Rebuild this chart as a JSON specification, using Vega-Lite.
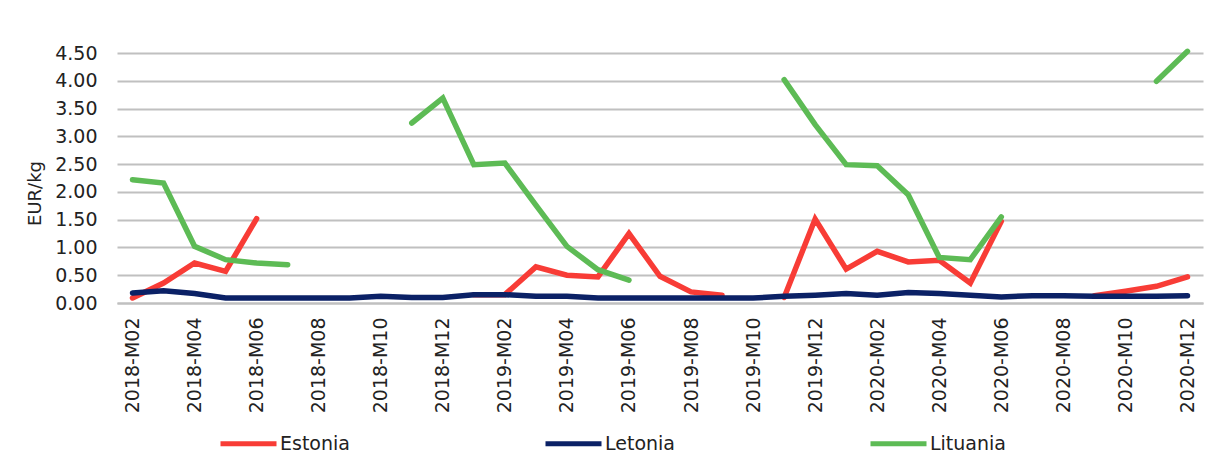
{
  "$schema": "https://vega.github.io/schema/vega-lite/v6.json",
  "width": 1086,
  "height": 250,
  "autosize": {"type": "none"},
  "padding": {"left": 117, "top": 53, "right": 5, "bottom": 156},
  "background": "white",
  "config": {
    "font": "DejaVu Sans",
    "view": {"stroke": null},
    "axis": {"labelColor": "#222222", "titleColor": "#222222", "labelFont": "DejaVu Sans", "titleFont": "DejaVu Sans"}
  },
  "data": {
    "values": [
      {"month": "2018-M02", "Estonia": 0.09, "Letonia": 0.18, "Lituania": 2.22},
      {"month": "2018-M03", "Estonia": 0.36, "Letonia": 0.22, "Lituania": 2.16},
      {"month": "2018-M04", "Estonia": 0.72, "Letonia": 0.17, "Lituania": 1.02},
      {"month": "2018-M05", "Estonia": 0.57, "Letonia": 0.09, "Lituania": 0.78},
      {"month": "2018-M06", "Estonia": 1.52, "Letonia": 0.09, "Lituania": 0.72},
      {"month": "2018-M07", "Estonia": null, "Letonia": 0.09, "Lituania": 0.69},
      {"month": "2018-M08", "Estonia": null, "Letonia": 0.09, "Lituania": null},
      {"month": "2018-M09", "Estonia": null, "Letonia": 0.09, "Lituania": null},
      {"month": "2018-M10", "Estonia": null, "Letonia": 0.12, "Lituania": null},
      {"month": "2018-M11", "Estonia": null, "Letonia": 0.10, "Lituania": 3.24},
      {"month": "2018-M12", "Estonia": null, "Letonia": 0.10, "Lituania": 3.69},
      {"month": "2019-M01", "Estonia": 0.15, "Letonia": 0.15, "Lituania": 2.49},
      {"month": "2019-M02", "Estonia": 0.15, "Letonia": 0.15, "Lituania": 2.52},
      {"month": "2019-M03", "Estonia": 0.65, "Letonia": 0.12, "Lituania": 1.76},
      {"month": "2019-M04", "Estonia": 0.50, "Letonia": 0.12, "Lituania": 1.02},
      {"month": "2019-M05", "Estonia": 0.47, "Letonia": 0.09, "Lituania": 0.60},
      {"month": "2019-M06", "Estonia": 1.25, "Letonia": 0.09, "Lituania": 0.41},
      {"month": "2019-M07", "Estonia": 0.48, "Letonia": 0.09, "Lituania": null},
      {"month": "2019-M08", "Estonia": 0.20, "Letonia": 0.09, "Lituania": null},
      {"month": "2019-M09", "Estonia": 0.14, "Letonia": 0.09, "Lituania": null},
      {"month": "2019-M10", "Estonia": null, "Letonia": 0.09, "Lituania": null},
      {"month": "2019-M11", "Estonia": 0.10, "Letonia": 0.12, "Lituania": 4.02},
      {"month": "2019-M12", "Estonia": 1.51, "Letonia": 0.14, "Lituania": 3.21},
      {"month": "2020-M01", "Estonia": 0.61, "Letonia": 0.17, "Lituania": 2.49},
      {"month": "2020-M02", "Estonia": 0.93, "Letonia": 0.14, "Lituania": 2.47},
      {"month": "2020-M03", "Estonia": 0.74, "Letonia": 0.19, "Lituania": 1.95},
      {"month": "2020-M04", "Estonia": 0.77, "Letonia": 0.17, "Lituania": 0.82},
      {"month": "2020-M05", "Estonia": 0.36, "Letonia": 0.14, "Lituania": 0.78},
      {"month": "2020-M06", "Estonia": 1.47, "Letonia": 0.11, "Lituania": 1.55},
      {"month": "2020-M07", "Estonia": null, "Letonia": 0.13, "Lituania": null},
      {"month": "2020-M08", "Estonia": null, "Letonia": 0.13, "Lituania": null},
      {"month": "2020-M09", "Estonia": 0.13, "Letonia": 0.12, "Lituania": null},
      {"month": "2020-M10", "Estonia": 0.21, "Letonia": 0.12, "Lituania": null},
      {"month": "2020-M11", "Estonia": 0.30, "Letonia": 0.12, "Lituania": 3.99},
      {"month": "2020-M12", "Estonia": 0.47, "Letonia": 0.13, "Lituania": 4.53}
    ]
  },
  "transform": [
    {"fold": ["Estonia", "Letonia", "Lituania"], "as": ["country", "value"]}
  ],
  "mark": {"type": "line", "strokeWidth": 5.5, "strokeCap": "round", "strokeJoin": "miter", "invalid": "break-paths-show-domains", "clip": false},
  "encoding": {
    "x": {
      "field": "month",
      "type": "ordinal",
      "sort": null,
      "scale": {"type": "point", "padding": 0.5},
      "axis": {
        "title": null,
        "values": ["2018-M02", "2018-M04", "2018-M06", "2018-M08", "2018-M10", "2018-M12", "2019-M02", "2019-M04", "2019-M06", "2019-M08", "2019-M10", "2019-M12", "2020-M02", "2020-M04", "2020-M06", "2020-M08", "2020-M10", "2020-M12"],
        "labelAngle": -90,
        "labelFontSize": 19,
        "labelPadding": 14,
        "ticks": false,
        "domain": true,
        "domainColor": "#c0c0c0",
        "domainWidth": 2,
        "grid": false
      }
    },
    "y": {
      "field": "value",
      "type": "quantitative",
      "scale": {"domain": [0, 4.5], "nice": false},
      "axis": {
        "title": "EUR/kg",
        "titleFontSize": 18,
        "titleFontWeight": "normal",
        "titlePadding": 10,
        "titleY": 140,
        "values": [0, 0.5, 1, 1.5, 2, 2.5, 3, 3.5, 4, 4.5],
        "format": ".2f",
        "labelFontSize": 19,
        "labelPadding": 20,
        "ticks": false,
        "domain": false,
        "grid": true,
        "gridColor": "#c0c0c0",
        "gridWidth": 2
      }
    },
    "stroke": {
      "field": "country",
      "type": "nominal",
      "scale": {"domain": ["Estonia", "Letonia", "Lituania"], "range": ["#F83C36", "#0B2166", "#5DBB55"]},
      "legend": {
        "title": null,
        "orient": "none",
        "direction": "horizontal",
        "legendX": 101,
        "legendY": 360,
        "symbolType": "stroke",
        "symbolSize": 3136,
        "symbolStrokeWidth": 5,
        "labelFontSize": 19,
        "labelColor": "#222222",
        "labelOffset": 1,
        "columnPadding": 185,
        "labelFont": "DejaVu Sans"
      }
    }
  }
}
